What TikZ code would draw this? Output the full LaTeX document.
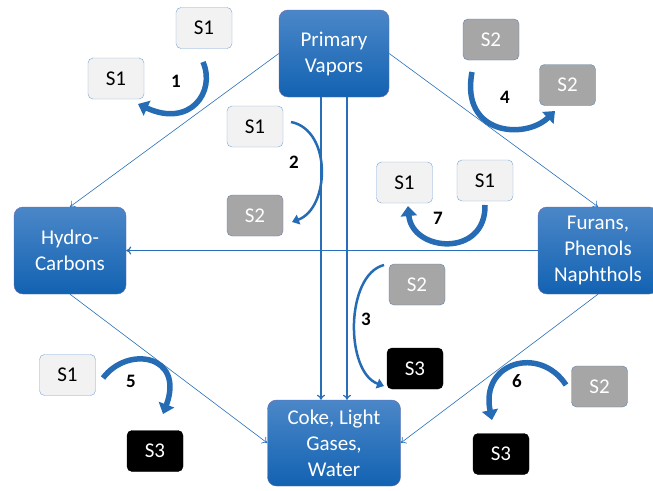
\documentclass[tikz,border=0pt]{standalone}
\usepackage{fontspec}
\setmainfont{Carlito}
\usetikzlibrary{arrows.meta,calc,positioning}

\begin{document}
\begin{tikzpicture}[x=1pt,y=-1pt]
		\tikzset{
			big/.style={draw=blue!45!black!60, rounded corners=9pt, top color={rgb,255:red,75;green,135;blue,200}, bottom color={rgb,255:red,18;green,98;blue,178}, text=white, font=\fontsize{21}{26}\selectfont, align=center, inner sep=0pt},
			sone/.style={draw={rgb,255:red,120;green,165;blue,215}, fill={rgb,255:red,242;green,242;blue,242}, rounded corners=5pt, minimum width=56pt, minimum height=41pt, font=\fontsize{21}{24}\selectfont},
			stwo/.style={sone, draw={rgb,255:red,95;green,130;blue,170}, fill={rgb,255:red,166;green,166;blue,166}, text=white},
			sthree/.style={sone, draw=black, fill=black, text=white},
			thinarr/.style={draw={rgb,255:red,40;green,110;blue,185}, line width=0.6pt, -{To[length=5pt,width=8pt]}},
			thickarr/.style={thinarr, line width=1.2pt},
			bendarr/.style={draw={rgb,255:red,38;green,108;blue,180}, line width=5.5pt, -{Triangle[length=10pt,width=16pt]}},
			bendthinarr/.style={bendarr, line width=2.5pt, -{Triangle[length=7pt,width=10pt]}},
			num/.style={font=\fontsize{19}{21}\selectfont\bfseries}
		}
		\useasboundingbox (0,0) rectangle (653,490);
		% main boxes
		\node [big, minimum width=110pt, minimum height=87pt] (pv) at (334,53.5) {Primary\\Vapors};
		\node [big, minimum width=112pt, minimum height=87pt] (hc) at (70,250.5) {Hydro-\\Carbons};
		\node [big, minimum width=120pt, minimum height=87pt] (fur) at (598,250.5) {Furans,\\Phenols\\Naphthols};
		\node [big, minimum width=133pt, minimum height=86pt] (coke) at (334,443) {Coke, Light\\Gases,\\Water};
		% thin arrows between main boxes
		\draw [thinarr] (pv.west) -- (hc.north);
		\draw [thinarr] (pv.east) -- (fur.north);
		\draw [thinarr] (hc.south) -- (coke.west);
		\draw [thinarr] (fur.south) -- (coke.east);
		\draw [thickarr] ([xshift=-13pt]pv.south) -- ([xshift=-13pt]coke.north);
		\draw [thickarr] ([xshift=13pt]pv.south) -- ([xshift=13pt]coke.north);
		\draw [thickarr] (fur.west) -- (hc.east);
		% small boxes
		\node [sone] (s1a) at (204,28) {S1};
		\node [sone] (s1b) at (116,78.5) {S1};
		\node [sone] (s1c) at (255,126.5) {S1};
		\node [stwo] (s2c) at (255,215.5) {S2};
		\node [stwo] (s2d) at (491,39.5) {S2};
		\node [stwo] (s2e) at (567.5,85) {S2};
		\node [sone] (s1g) at (404.5,182.5) {S1};
		\node [sone] (s1h) at (485,180.5) {S1};
		\node [stwo] (s2f) at (417,284.5) {S2};
		\node [sthree] (s3f) at (415,368.5) {S3};
		\node [sone] (s1i) at (67.5,375) {S1};
		\node [sthree] (s3i) at (155,451) {S3};
		\node [stwo] (s2j) at (599.5,386.5) {S2};
		\node [sthree] (s3j) at (501,454) {S3};
		% curved arrows
		\draw [bendarr] (203,62) .. controls (216,92) and (190,128) .. (138,104);
		\draw [bendthinarr] (291,122) .. controls (332,130) and (330,208) .. (292,222);
		\draw [bendthinarr] (384,265) .. controls (345,275) and (345,372) .. (384,386);
		\draw [bendarr] (472,72) .. controls (460,135) and (525,140) .. (555,111);
		\draw [bendarr] (103,378) .. controls (128,345) and (185,355) .. (163,414);
		\draw [bendarr] (566,385) .. controls (540,345) and (480,362) .. (492,420);
		\draw [bendarr] (485,205) .. controls (486,258) and (412,252) .. (408,206);
		% step numbers
		\node [num] (n1) at (176,81) {1};
		\node [num] (n2) at (294,162) {2};
		\node [num] (n3) at (366,319) {3};
		\node [num] (n4) at (505,97) {4};
		\node [num] (n5) at (131,381) {5};
		\node [num] (n6) at (517,381) {6};
		\node [num] (n7) at (438,218) {7};
\end{tikzpicture}
\end{document}
